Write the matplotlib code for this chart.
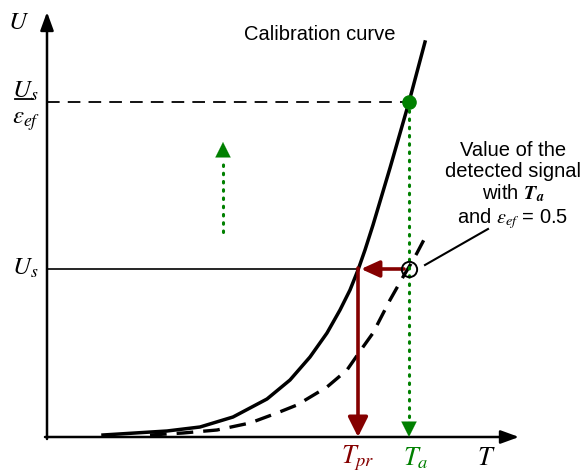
import numpy as np
import matplotlib.pyplot as plt

plt.rcParams['font.family'] = ['Liberation Sans', 'DejaVu Sans']
plt.rcParams['mathtext.fontset'] = 'stix'

# calibration curve (T, U)
cal_T = [56, 88, 120, 153, 186, 203, 220, 243, 263, 280, 293, 303, 311, 318, 326, 343, 362, 378]
cal_U = [2, 4, 6, 10, 20, 29, 38, 57, 80, 104, 127, 147, 167, 187, 212, 269, 335, 395]

# detected signal with eps_ef = 0.5
det_T = [103, 136, 170, 203, 230, 250, 280, 300, 316, 326, 343, 356, 362, 370, 381]
det_U = [2, 4, 7, 14, 24, 32, 50, 67, 90, 104, 137, 160, 170, 184, 205]

T_pr = 312
T_a = 362
U_s = 168
U_s_eps = 335

red = '#850000'
green = '#008000'

fig = plt.figure(figsize=(5.87, 4.72), dpi=100)
ax = fig.add_axes([0, 0, 1, 1])
ax.set_xlim(-47, 540)
ax.set_ylim(-35, 437)
ax.set_axis_off()


def arrow(p0, p1, color, lw, hl=1.1, hw=0.5):
    ax.annotate('', xy=p1, xytext=p0,
                arrowprops=dict(arrowstyle='-|>,head_length=%s,head_width=%s' % (hl, hw),
                                lw=lw, color=color, shrinkA=0, shrinkB=0,
                                mutation_scale=10))


# axes with arrows
arrow((-2, 0), (472, 0), 'k', 1.8, 1.1, 0.4)
arrow((0, -2), (0, 425), 'k', 1.8, 1.1, 0.4)

# reference levels
ax.plot([0, T_a], [U_s_eps, U_s_eps], color='k', lw=1.3, dashes=(7, 4.5))
ax.plot([0, T_pr], [U_s, U_s], color='k', lw=1.2)

# curves
ax.plot(cal_T, cal_U, color='k', lw=2.5, solid_joinstyle='round')
ax.plot(det_T, det_U, color='k', lw=2.4, dashes=(5, 3))

# green dotted arrow down at T_a
ax.plot([T_a, T_a], [U_s_eps, 17], color=green, lw=2.2, ls=(0, (0.5, 2.2)), dash_capstyle='round')
arrow((T_a, 16), (T_a, 0), green, 0.1, 1.1, 0.55)
# green dotted arrow up
ax.plot([176, 176], [205, 279], color=green, lw=2.2, ls=(0, (0.5, 2.2)), dash_capstyle='round')
arrow((176, 281), (176, 295), green, 0.1, 1.1, 0.55)

# red arrows
arrow((T_a - 5, U_s), (T_pr + 2, U_s), red, 2.6, 1.1, 0.5)
arrow((T_pr - 1, U_s + 1), (T_pr - 1, 0), red, 2.6, 1.2, 0.6)

# markers
ax.plot([T_a], [U_s_eps], 'o', color=green, ms=9.5, zorder=5)
ax.plot([T_a], [U_s], 'o', mfc='none', mec='k', ms=11, mew=1.4, zorder=5)

# annotation
ax.plot([378, 441], [172, 208], color='k', lw=1.5)
ax.text(466, 251, 'Value of the\ndetected signal\nwith $\\mathbfit{T_a}$\nand $\\varepsilon_{ef}$ = 0.5',
        ha='center', va='center', fontsize=14.5, linespacing=1.1)
ax.text(273, 402, 'Calibration curve', ha='center', va='center', fontsize=14.5)

# axis labels
ax.text(-28, 415, '$U$', ha='center', va='center', fontsize=18)
ax.text(-22, 346, '$U_s$', ha='center', va='center', fontsize=18)
ax.plot([-32, -14], [338, 338], color='k', lw=1.3)
ax.text(-21, 316, '$\\varepsilon_{ef}$', ha='center', va='center', fontsize=18)
ax.text(-22, 169, '$U_s$', ha='center', va='center', fontsize=18)
ax.text(T_pr - 1, -21, '$T_{pr}$', ha='center', va='center', fontsize=19, color=red)
ax.text(T_a + 7, -21, '$T_a$', ha='center', va='center', fontsize=19, color=green)
ax.text(439, -21, '$T$', ha='center', va='center', fontsize=19)

fig.savefig('out.png', dpi=100)
